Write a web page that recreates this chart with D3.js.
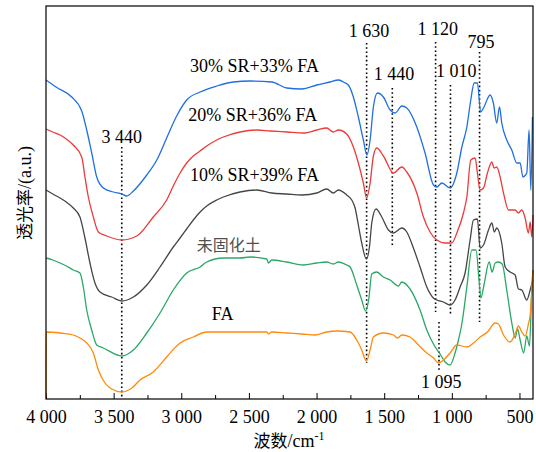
<!DOCTYPE html>
<html>
<head>
<meta charset="utf-8">
<script src="https://cdn.jsdelivr.net/npm/d3@7"></script>
<style>
  body { margin: 0; background: #fff; }
  text { font-family: "Liberation Serif", "Times New Roman", serif; }
  .cjk { font-family: "Noto Sans CJK SC", sans-serif; }
</style>
</head>
<body>
<script>
// wavenumber (cm-1) / transmittance (a.u.) pairs
var sr30 = [[4000,319],[3926,312],[3810,302],[3736,288],[3699,269],[3662,246],[3625,222],[3576,211],[3502,207],[3440,205],[3403,203],[3354,208],[3255,224],[3181,239],[3108,261],[3034,283],[2960,299],[2861,307],[2738,313],[2615,317],[2492,318],[2331,317],[2220,311],[2109,310],[1998,314],[1900,317],[1839,319],[1802,317],[1765,314],[1728,302],[1691,282],[1654,259],[1628,244],[1604,259],[1580,292],[1550,306],[1506,302],[1456,289],[1419,286],[1370,293],[1333,291],[1259,272],[1198,246],[1136,214],[1111,212],[1074,216],[1013,211],[963,226],[926,252],[889,272],[860,299],[835,316],[811,316],[787,287],[766,291],[717,304],[693,296],[668,276],[648,292],[631,276],[594,259],[557,249],[520,236],[495,236],[475,222],[446,226],[429,269],[416,209],[404,282]];

var sr20 = [[4000,270],[3950,267],[3896,264],[3850,260],[3798,254],[3736,242],[3712,222],[3687,202],[3650,182],[3613,167],[3551,163],[3440,159],[3329,163],[3207,182],[3108,199],[3059,213],[3009,226],[2960,236],[2911,243],[2861,248],[2812,253],[2738,259],[2689,262],[2566,267],[2442,269],[2344,268],[2220,267],[2097,266],[1998,269],[1925,271],[1876,267],[1839,269],[1777,265],[1728,252],[1691,236],[1654,216],[1630,201],[1604,216],[1580,243],[1555,251],[1506,243],[1432,226],[1370,232],[1333,227],[1259,206],[1210,182],[1161,167],[1111,159],[1050,156],[1000,156],[963,166],[914,186],[889,202],[860,239],[828,241],[811,226],[791,209],[766,211],[737,226],[704,237],[688,231],[668,232],[643,222],[618,206],[581,189],[532,189],[508,186],[483,189],[458,181],[434,166],[421,177],[409,162],[400,184]];

var sr10 = [[4000,209],[3950,205],[3896,201],[3850,197],[3798,191],[3749,182],[3712,161],[3675,136],[3638,116],[3601,107],[3514,102],[3440,98],[3354,102],[3255,114],[3157,132],[3059,152],[3009,161],[2960,170],[2911,179],[2861,187],[2812,193],[2738,199],[2689,202],[2566,207],[2442,209],[2331,206],[2220,205],[2109,204],[1998,206],[1925,210],[1876,206],[1839,209],[1777,204],[1740,199],[1715,191],[1691,174],[1666,156],[1632,140],[1609,152],[1592,176],[1560,190],[1518,182],[1469,169],[1432,166],[1370,171],[1333,167],[1284,151],[1235,132],[1185,112],[1136,101],[1111,99],[1062,97],[1013,94],[976,99],[939,112],[902,126],[865,159],[840,179],[811,180],[791,151],[766,154],[729,169],[704,176],[686,167],[668,171],[631,156],[606,132],[569,127],[532,124],[508,110],[483,109],[446,99],[421,109],[401,119]];

var untreated = [[4000,141],[3950,139],[3896,136],[3850,133],[3798,129],[3749,126],[3724,112],[3699,89],[3662,69],[3625,54],[3576,51],[3440,43],[3354,49],[3255,66],[3157,86],[3059,109],[2960,126],[2861,132],[2812,137],[2689,141],[2566,141],[2492,142],[2368,140],[2356,136],[2331,139],[2220,137],[2097,134],[1998,136],[1925,137],[1876,135],[1839,137],[1777,134],[1752,132],[1703,114],[1666,99],[1638,88],[1615,99],[1592,125],[1555,127],[1506,122],[1456,119],[1395,113],[1370,117],[1309,110],[1235,89],[1185,69],[1136,55],[1087,45],[1050,37],[1013,34],[976,46],[951,59],[926,75],[889,112],[852,149],[821,149],[800,121],[785,101],[761,115],[724,137],[702,127],[680,136],[656,137],[628,135],[591,106],[554,74],[532,61],[514,70],[495,59],[469,46],[446,63],[426,53],[409,109],[400,129]];

var fa = [[4000,2],[3998,67],[3896,66],[3798,64],[3749,61],[3699,56],[3650,46],[3613,29],[3564,16],[3514,10],[3440,7],[3366,11],[3305,19],[3207,27],[3108,42],[3009,56],[2911,62],[2812,67],[2689,67],[2442,67],[2368,67],[2356,65],[2331,67],[2220,66],[2109,65],[2011,64],[1925,67],[1851,68],[1752,67],[1703,59],[1666,49],[1632,38],[1604,49],[1580,62],[1506,66],[1432,64],[1401,61],[1370,64],[1309,62],[1247,54],[1185,46],[1136,41],[1099,36],[1062,39],[1013,46],[963,54],[889,52],[840,56],[791,62],[737,67],[680,76],[656,75],[618,64],[569,57],[532,65],[508,73],[483,67],[458,63],[434,75],[421,84],[401,129]];

var seriesNames = ["30% SR+33% FA", "20% SR+36% FA", "10% SR+39% FA", "未固化土", "FA"];
var seriesData = [sr30, sr20, sr10, untreated, fa];
var seriesColors = ["#1f6fe0", "#ec3b3b", "#454545", "#2aa865", "#ff8a0a"];

// marked bands: wavenumber, label
var peakW = [3440, 1630, 1440, 1120, 1010, 795, 1095];
var peakLabels = ["3 440", "1 630", "1 440", "1 120", "1 010", "795", "1 095"];

var xTicks = [4000, 3500, 3000, 2500, 2000, 1500, 1000, 500];

var svgWidth = 536;
var svgHeight = 452;
var margin = {top: 6, right: 3, bottom: 53, left: 46};
var width = svgWidth - margin.left - margin.right;
var height = svgHeight - margin.top - margin.bottom;

var svg = d3.select("body")
  .append("svg")
  .attr("width", svgWidth)
  .attr("height", svgHeight);

var chartGroup = svg.append("g")
  .attr("transform", `translate(${margin.left}, ${margin.top})`);

var xScale = d3.scaleLinear().domain([4000, 400]).range([0, width]);
var yScale = d3.scaleLinear().domain([0, 393]).range([height, 0]);

var fmt = d3.formatLocale({decimal: ".", thousands: " ", grouping: [3], currency: ["", ""]}).format(",d");

// minor ticks
chartGroup.append("g")
  .attr("transform", `translate(0, ${height})`)
  .call(d3.axisBottom(xScale).tickValues(d3.range(3750, 400, -500)).tickSize(-4).tickFormat(""))
  .call(g => g.select(".domain").remove())
  .selectAll("line").attr("stroke", "#000");

var bottomAxis = d3.axisBottom(xScale)
  .tickValues(xTicks)
  .tickSizeInner(-6)
  .tickSizeOuter(0)
  .tickPadding(11)
  .tickFormat(fmt);

var xAxisG = chartGroup.append("g")
  .attr("transform", `translate(0, ${height})`)
  .call(bottomAxis);
xAxisG.select(".domain").remove();
xAxisG.selectAll("text")
  .style("font-family", "'Liberation Serif', serif")
  .style("font-size", "18px")
  .attr("fill", "#000");

// dotted guides
var guideTop = [252, 356, 311, 357, 314, 347, 77];
var guideBottom = [2, 36, 152, 87, 83, 77, 29];
chartGroup.append("g").selectAll("line")
  .data(peakW)
  .enter()
  .append("line")
  .attr("x1", d => xScale(d))
  .attr("x2", d => xScale(d))
  .attr("y1", (d, i) => yScale(guideTop[i]))
  .attr("y2", (d, i) => yScale(guideBottom[i]))
  .attr("stroke", "#000")
  .attr("stroke-width", 1.6)
  .attr("stroke-dasharray", "1.6,2.6");

// curves
var line = d3.line()
  .x(d => xScale(d[0]))
  .y(d => yScale(d[1]))
  .curve(d3.curveMonotoneX);

chartGroup.append("g").selectAll("path")
  .data(seriesData)
  .enter()
  .append("path")
  .attr("d", line)
  .attr("fill", "none")
  .attr("stroke", (d, i) => seriesColors[i])
  .attr("stroke-width", 1.3)
  .attr("stroke-linejoin", "round");

// band labels
var labelW = [3440, 1612, 1427, 1105, 968, 784, 1079];
var labelV = [256, 362, 319, 364, 322, 351, 11];
chartGroup.append("g").selectAll("text")
  .data(peakLabels)
  .enter()
  .append("text")
  .attr("x", (d, i) => xScale(labelW[i]))
  .attr("y", (d, i) => yScale(labelV[i]))
  .attr("text-anchor", "middle")
  .style("font-size", "18px")
  .text(d => d);

// series labels
var nameW = [2935, 2948, 2935, 2886, 2775];
var nameV = [327, 278, 218, 148, 79];
chartGroup.append("g").selectAll("text")
  .data(seriesNames)
  .enter()
  .append("text")
  .attr("class", (d, i) => i === 3 ? "cjk" : null)
  .attr("x", (d, i) => xScale(nameW[i]))
  .attr("y", (d, i) => yScale(nameV[i]))
  .attr("fill", (d, i) => i === 3 ? "#505050" : "#000")
  .style("font-size", (d, i) => i === 3 ? "16px" : "18px")
  .text(d => d);

// frame
chartGroup.append("rect")
  .attr("width", width)
  .attr("height", height)
  .attr("fill", "none")
  .attr("stroke", "#000")
  .attr("stroke-width", 1.2);

// axis titles
var xTitle = svg.append("text")
  .attr("x", 289)
  .attr("y", 447)
  .attr("text-anchor", "middle")
  .style("font-size", "18px");
xTitle.append("tspan").attr("class", "cjk").style("font-size", "17px").text("波数");
xTitle.append("tspan").text("/cm");
xTitle.append("tspan").attr("dy", -7).style("font-size", "12px").text("-1");

var yTitle = svg.append("text")
  .attr("transform", "translate(31, 193) rotate(-90)")
  .attr("text-anchor", "middle")
  .style("font-size", "18px");
yTitle.append("tspan").attr("class", "cjk").style("font-size", "17px").text("透光率");
yTitle.append("tspan").text("/(a.u.)");
</script>
</body>
</html>
